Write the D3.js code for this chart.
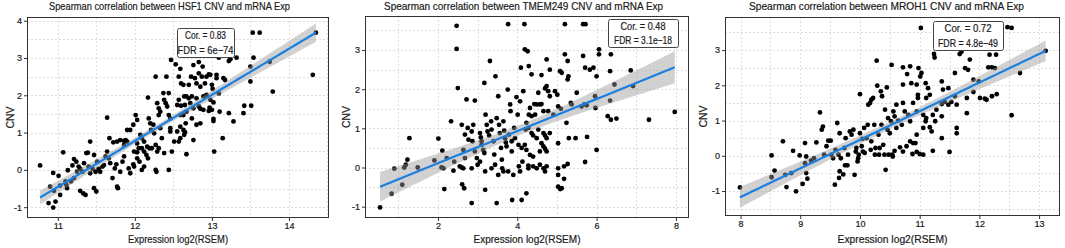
<!DOCTYPE html>
<html><head><meta charset="utf-8">
<script src="https://cdn.jsdelivr.net/npm/d3@7"></script>
<style>
body{margin:0;background:#fff}
svg{display:block}
text{font-family:"Liberation Sans",Arial,Helvetica,sans-serif}
</style>
</head><body>
<svg id="c" width="1065" height="248"></svg>
<script>
// ---------------- DATA ----------------
const titles = [
  "Spearman correlation between HSF1 CNV and mRNA Exp",
  "Spearman correlation between TMEM249 CNV and mRNA Exp",
  "Spearman correlation between MROH1 CNV and mRNA Exp"
];
const corLabels = ["Cor. = 0.83", "Cor. = 0.48", "Cor. = 0.72"];
const fdrLabels = ["FDR = 6e\u221274", "FDR = 3.1e\u221218", "FDR = 4.8e\u221249"];
const xLabel = "Expression log2(RSEM)";
const yLabel = "CNV";
const xTicks = [[11, 12, 13, 14], [2, 4, 6, 8], [8, 9, 10, 11, 12, 13]];
const yTicks = [[-1, 0, 1, 2, 3, 4], [-1, 0, 1, 2, 3], [-1, 0, 1, 2, 3]];
const xDomains = [[10.6, 14.52], [0.16, 8.33], [7.74, 13.35]];
const yDomains = [[-1.29, 4.1], [-1.29, 3.87], [-1.71, 3.94]];
// linear fit (geom_smooth, method = lm)
const fitIntercepts = [-14.037, -0.712, -7.672];
const fitSlopes = [1.2346, 0.4105, 0.8125];

const hsf1Points = [
[10.77,0.12],[10.94,-0.08],[11.01,-0.16],[10.90,-0.45],[10.95,-0.56],[11.03,-0.67],[10.88,-0.89],[10.94,-1.01],[10.97,-0.85],[11.03,-0.42],
[11.11,-0.40],[11.07,0.47],[11.13,-0.01],[11.19,0.12],[11.21,0.29],[11.24,0.22],[11.27,0.09],[11.29,0.03],[11.32,-0.05],[11.34,0.18],
[11.29,-0.56],[11.33,-0.63],[11.36,-0.67],[11.47,-0.49],[11.50,-0.58],[11.42,0.76],[11.37,0.45],[11.39,0.46],[11.47,0.40],[11.51,0.22],
[11.53,0.03],[11.58,0.09],[11.62,0.36],[11.64,1.40],[11.67,0.85],[11.72,0.74],[11.74,0.04],[11.76,0.15],[11.71,-0.22],[11.77,-0.45],
[11.78,-0.49],[11.81,-0.05],[11.84,0.22],[11.86,0.36],[11.88,0.80],[11.90,0.76],[11.92,0.04],[11.94,-0.09],[11.98,0.15],[11.99,0.09],
[12.03,0.31],[12.06,0.22],[12.09,0.00],[12.12,0.09],[12.01,1.47],[12.03,1.34],[11.94,1.07],[11.98,1.21],[11.90,1.07],[11.86,0.67],
[12.03,0.71],[12.07,0.94],[12.09,0.85],[12.12,0.76],[12.15,0.40],[12.17,0.31],[12.18,1.38],[12.20,1.25],[12.21,1.07],[12.24,1.21],
[12.25,0.98],[12.27,0.67],[12.29,0.49],[12.31,0.58],[12.33,1.12],[12.35,0.85],[12.38,0.45],[12.27,0.00],[12.28,-0.05],[12.31,1.47],
[12.33,1.56],[12.38,1.88],[12.40,1.79],[12.42,1.70],[12.44,1.47],[12.46,1.38],[12.37,2.06],[12.27,2.50],[12.41,2.50],[12.47,2.95],
[12.53,2.83],[12.59,2.71],[12.57,2.50],[12.64,1.97],[12.60,1.72],[12.63,1.47],[12.48,0.49],[12.44,0.00],[12.57,0.76],[12.51,0.76],
[12.46,1.12],[12.46,1.03],[12.55,1.03],[12.59,1.16],[12.66,1.25],[12.64,0.94],[12.17,1.94],[12.29,1.79],[12.31,1.65],[12.44,2.06],
[12.55,1.74],[12.57,1.88],[12.59,0.85],[11.77,0.76],[11.81,0.80],[11.86,0.78],[11.64,0.49],[11.66,0.31],[11.68,0.18],[11.60,0.13],
[11.55,-0.05],[11.49,-0.05],[11.45,0.03],[11.40,0.09],[11.42,-0.09],[11.25,-0.05],[11.21,-0.22],[11.17,-0.31],[11.12,-0.49],[11.10,-0.31],
[12.09,0.58],[12.12,0.49],[11.99,0.49],[12.03,0.47],[12.05,0.58],[12.16,0.62],[12.19,0.58],[12.22,0.58],
[13.53,3.68],[13.62,3.68],[14.35,3.68],[13.09,3.01],[13.22,2.92],[13.24,2.97],[13.32,3.01],[13.54,3.01],[13.75,2.90],[13.50,2.77],
[12.76,2.81],[12.83,2.89],[12.88,2.77],[12.73,2.50],[12.78,2.46],[12.83,2.59],[12.87,2.50],[12.93,2.50],[12.96,2.56],[12.98,2.55],
[13.06,2.55],[13.06,2.46],[13.15,2.46],[13.17,2.41],[14.31,2.55],[13.50,2.37],[12.60,2.32],[12.63,2.28],[12.70,2.28],[12.80,2.32],
[12.85,2.23],[12.91,2.32],[13.00,2.28],[13.01,2.17],[13.09,2.05],[13.79,2.10],[12.67,1.97],[12.70,1.92],[12.74,1.97],[12.80,1.92],
[12.89,1.97],[12.93,2.01],[12.98,1.88],[13.02,1.81],[12.65,1.74],[12.72,1.79],[12.76,1.65],[12.83,1.70],[12.85,1.64],[12.89,1.61],
[12.96,1.58],[13.00,1.61],[12.97,1.67],[13.10,1.56],[13.22,1.52],[13.42,1.72],[13.51,1.72],[13.41,1.52],[12.59,1.47],[12.67,1.56],
[12.74,1.38],[12.80,1.21],[12.85,1.25],[13.02,1.37],[13.02,1.31],[13.28,1.30],[12.63,1.07],[12.65,1.01],[12.76,0.80],[13.14,0.85],
[12.67,0.42],[13.03,0.49]
];

const tmem249Points = [
[0.54,-1.02],[0.83,-0.67],[0.90,-0.03],[1.10,-0.44],[1.15,0.00],[1.19,0.07],[1.23,0.20],[1.28,0.75],[1.49,0.00],[1.91,0.18],
[2.01,0.74],[2.11,0.43],[2.09,0.00],[2.14,-0.02],[2.16,-0.55],[2.22,0.24],[2.33,1.18],[2.41,0.15],[2.39,-0.08],[2.47,3.62],
[2.47,3.03],[2.50,2.03],[2.60,1.09],[2.55,0.03],[2.60,0.00],[2.64,-0.02],[2.64,0.45],[2.61,-0.43],[2.66,-0.53],[2.72,1.74],
[2.75,1.01],[2.68,0.84],[2.77,0.71],[2.85,0.92],[2.87,0.67],[2.85,-0.02],[2.85,-0.91],[2.93,1.71],[2.93,0.41],[2.98,0.24],
[3.00,0.07],[3.06,0.88],[3.08,0.77],[3.10,0.67],[3.14,0.45],[3.17,0.37],[3.19,-0.57],[3.17,2.16],[3.20,1.35],[3.23,1.09],
[3.25,0.92],[3.29,0.82],[3.31,2.72],[3.34,1.18],[3.35,0.97],[3.40,0.67],[3.42,0.33],[3.44,0.07],[3.45,2.33],[3.48,1.26],
[3.48,-0.91],[3.52,1.82],[3.54,1.09],[3.56,0.88],[3.59,0.50],[3.61,0.20],[3.62,-0.02],[3.65,1.18],[3.67,0.94],[3.69,0.75],
[3.71,0.64],[3.73,0.54],[3.76,1.99],[3.77,3.66],[3.79,0.84],[3.82,1.61],[3.83,1.44],[3.86,0.41],[3.87,-0.83],[3.90,-0.19],
[3.92,1.01],[3.94,0.75],[3.98,1.80],[4.01,1.35],[4.03,0.58],[4.04,0.03],[4.07,1.69],[4.09,2.55],[4.11,-0.83],[4.13,0.15],
[4.15,1.95],[4.18,3.66],[4.19,3.02],[4.21,0.97],[4.23,-0.66],[4.26,2.97],[4.28,-0.02],[4.29,1.35],[4.07,-0.10],[4.11,0.50],
[3.35,-0.02],[3.06,0.15],[2.68,0.24],[3.86,0.67],[3.65,-0.10],[3.77,-0.10],[3.52,-0.19],[3.19,-0.10],[3.10,0.58],[2.89,1.09],
[5.20,3.66],[5.66,3.66],[5.72,3.66],[4.29,2.59],[4.36,2.38],[4.61,2.36],[4.74,2.76],[4.82,2.50],[5.08,2.46],[5.12,2.42],
[5.20,2.89],[5.27,2.72],[5.29,2.33],[5.27,2.25],[5.50,1.91],[5.66,2.85],[5.71,2.55],[5.83,2.50],[5.92,2.55],[6.00,2.33],
[6.06,3.02],[6.06,2.89],[6.36,2.89],[6.34,2.46],[6.45,2.12],[6.86,2.48],[6.92,2.08],[5.96,1.82],[5.97,1.52],[5.69,1.61],
[5.75,1.59],[5.62,1.56],[5.35,1.65],[5.37,1.61],[4.74,2.08],[4.70,2.02],[4.78,1.95],[4.95,1.95],[5.01,1.86],[4.82,1.82],
[4.53,1.91],[4.43,1.62],[4.49,1.61],[4.57,1.61],[4.61,1.62],[4.32,1.52],[4.45,1.35],[4.36,1.31],[4.66,1.44],[4.78,1.44],
[4.91,1.35],[5.03,1.56],[5.10,1.50],[5.24,1.14],[6.34,1.71],[6.28,1.31],[6.36,1.22],[6.50,1.25],[7.32,1.22],[7.97,1.42],
[4.23,1.14],[4.28,1.01],[4.36,0.88],[4.40,0.82],[4.49,0.75],[4.53,0.97],[4.66,0.88],[4.70,0.82],[4.74,0.75],[4.82,0.88],
[4.61,0.62],[4.66,0.54],[4.70,0.48],[4.74,0.41],[4.57,0.41],[5.03,0.62],[5.30,0.75],[5.47,0.75],[5.76,0.78],[6.00,0.45],
[5.71,0.14],[4.19,0.58],[4.23,0.45],[4.32,0.32],[4.40,0.28],[4.28,0.05],[4.40,0.03],[4.49,-0.02],[4.57,0.07],[4.66,-0.02],
[4.74,0.03],[4.70,-0.10],[5.03,-0.02],[5.18,0.03],[5.27,0.09],[5.03,-0.19],[5.18,-0.29],[5.03,-0.49],[5.08,-0.55],[5.12,-0.53]
];

const mroh1Points = [
[7.99,-0.90],[8.52,0.01],[8.52,-0.61],[8.57,-0.42],[8.71,0.41],[8.75,-0.54],[8.77,-0.89],[8.85,-0.49],[8.88,0.14],[8.93,-1.01],
[8.99,0.01],[9.04,-0.80],[9.08,0.36],[9.08,-0.21],[9.10,-0.49],[9.12,-0.65],[9.10,-0.02],[9.18,-0.14],[9.23,-0.07],[9.27,0.38],
[9.33,1.23],[9.36,0.74],[9.38,0.83],[9.40,0.03],[9.44,0.27],[9.47,0.43],[9.51,0.43],[9.52,0.03],[9.55,-0.07],[9.58,-0.82],
[9.59,0.17],[9.62,0.93],[9.64,0.03],[9.65,-0.63],[9.66,0.64],[9.66,-0.44],[9.68,-0.07],[9.72,-0.53],[9.74,0.22],[9.75,-0.27],
[9.76,0.50],[9.79,-0.27],[9.80,0.03],[9.83,0.69],[9.86,0.60],[9.89,0.74],[9.91,-0.54],[9.93,0.12],[9.94,0.22],[9.96,-0.16],
[9.97,-0.07],[9.98,0.03],[10.00,1.75],[10.00,0.64],[10.03,0.27],[10.04,0.48],[10.05,0.12],[10.07,0.79],[10.08,0.08],[10.11,0.50],
[10.13,0.88],[10.14,1.45],[10.17,1.50],[10.18,0.17],[10.19,1.59],[10.19,0.41],[10.22,1.64],[10.24,0.88],[10.25,0.03],[10.26,0.22],
[10.28,2.70],[10.29,1.99],[10.31,0.60],[10.32,0.03],[10.33,0.22],[10.35,1.83],[10.36,0.88],[10.37,1.69],[10.39,0.31],[10.41,0.03],
[10.42,1.31],[10.43,-0.40],[10.45,1.94],[10.46,0.74],[10.47,1.07],[10.48,0.03],[10.50,0.64],[10.52,0.98],[10.53,2.58],[10.54,0.03],
[11.02,3.63],[12.47,3.65],[12.54,3.63],[13.11,2.98],[12.68,2.35],[12.54,1.15],[10.72,2.51],[10.84,2.54],[10.79,2.32],[10.98,2.49],
[11.03,2.35],[11.01,2.25],[10.72,2.02],[10.86,2.06],[10.95,2.02],[11.10,2.06],[11.14,1.92],[11.25,2.79],[11.24,2.89],[11.17,1.73],
[11.11,1.64],[10.97,1.73],[10.97,1.64],[11.37,2.11],[11.39,1.88],[11.48,1.92],[11.59,2.35],[11.67,2.89],[11.70,2.95],[11.84,2.73],
[11.76,2.49],[11.81,2.44],[11.90,2.16],[11.99,2.11],[12.17,2.87],[12.28,2.87],[12.15,2.51],[12.21,2.51],[12.26,2.49],[11.90,1.81],
[12.01,1.64],[12.09,1.62],[12.12,1.59],[12.21,1.69],[12.29,1.75],[11.79,1.64],[11.79,1.21],[11.62,1.45],[11.59,1.69],[11.53,1.53],
[11.48,1.45],[11.42,1.53],[11.37,1.47],[11.28,1.31],[11.22,1.16],[11.26,0.98],[11.37,1.12],[11.62,0.79],[11.62,0.64],[11.50,0.11],
[11.22,0.14],[11.06,0.03],[11.00,0.05],[10.95,0.11],[10.88,0.05],[10.78,0.27],[10.72,0.12],[10.67,0.24],[10.58,0.14],[10.55,-0.02],
[10.89,0.36],[10.84,0.41],[10.95,0.60],[11.06,0.79],[11.10,0.98],[11.17,0.81],[11.20,0.69],[11.37,0.50],[10.93,0.36],[10.61,1.45],
[10.56,1.26],[10.58,1.12],[10.64,1.00],[10.70,0.88],[10.75,1.26],[10.81,1.16],[10.84,0.98],[10.72,1.50],[10.89,1.50],[10.95,1.26],
[11.06,1.16],[11.11,1.07],[10.61,0.79]
];

const panelPoints = [hsf1Points, tmem249Points, mroh1Points];

// ---------------- LAYOUT ----------------
const layout = [
  {left: 27, right: 329, top: 17, bottom: 218, titleX: 169.5, titleW: 241, xLabW: 100, yLabX: 10,
   box: {x0: 177, x1: 234, y0: 28, y1: 57}, corW: 41, fdrW: 56},
  {left: 365, right: 689, top: 16, bottom: 218, titleX: 523.6, titleW: 279, xLabW: 107, yLabX: 346,
   box: {x0: 608, x1: 678, y0: 19, y1: 47}, corW: 45, fdrW: 58},
  {left: 725, right: 1060, top: 17, bottom: 216, titleX: 886.5, titleW: 275, xLabW: 110, yLabX: 703,
   box: {x0: 933, x1: 1003, y0: 21, y1: 50}, corW: 47, fdrW: 60}
];

const svg = d3.select("#c");
const textCol = "#1a1a1a";

function heavy(sel) {
  return sel.attr("fill", textCol).attr("stroke", textCol).attr("stroke-width", 0.2);
}

panelPoints.forEach((pts, i) => {
  const L = layout[i];
  const x = d3.scaleLinear().domain(xDomains[i]).range([L.left, L.right]);
  const y = d3.scaleLinear().domain(yDomains[i]).range([L.bottom, L.top]);
  const g = svg.append("g");

  const clipId = "clip" + i;
  svg.append("clipPath").attr("id", clipId).append("rect")
    .attr("x", L.left).attr("y", L.top).attr("width", L.right - L.left).attr("height", L.bottom - L.top);

  // grid (major + minor)
  const xt = xTicks[i], yt = yTicks[i];
  const xstep = xt[1] - xt[0], ystep = yt[1] - yt[0];
  const xGrid = d3.range(xt[0] - xstep, xt[xt.length - 1] + xstep * 1.01, xstep / 2).filter(v => v >= xDomains[i][0] && v <= xDomains[i][1]);
  const yGrid = d3.range(yt[0] - ystep, yt[yt.length - 1] + ystep * 1.01, ystep / 2).filter(v => v >= yDomains[i][0] && v <= yDomains[i][1]);
  const grid = g.append("g").attr("stroke", "#d4d4d4").attr("stroke-width", 0.8).attr("stroke-dasharray", "2,2");
  grid.selectAll("line.gx").data(xGrid).join("line")
    .attr("x1", d => Math.round(x(d)) + 0.5).attr("x2", d => Math.round(x(d)) + 0.5)
    .attr("y1", L.top).attr("y2", L.bottom);
  grid.selectAll("line.gy").data(yGrid).join("line")
    .attr("y1", d => Math.round(y(d)) + 0.5).attr("y2", d => Math.round(y(d)) + 0.5)
    .attr("x1", L.left).attr("x2", L.right);

  const plot = g.append("g").attr("clip-path", `url(#${clipId})`);
  // points
  plot.selectAll("circle").data(pts).join("circle")
    .attr("cx", d => x(d[0])).attr("cy", d => y(d[1])).attr("r", 2.4).attr("fill", "#000");

  // regression line + 95% confidence band
  const a = fitIntercepts[i], b = fitSlopes[i];
  const n = pts.length;
  const mx = d3.mean(pts, d => d[0]);
  const sxx = d3.sum(pts, d => (d[0] - mx) ** 2);
  const s = Math.sqrt(d3.sum(pts, d => (d[1] - a - b * d[0]) ** 2) / (n - 2));
  const xs = d3.extent(pts, d => d[0]);
  const steps = d3.range(0, 81).map(k => xs[0] + (xs[1] - xs[0]) * k / 80);
  const tq = 1.97;
  const band = steps.map(xv => {
    const yh = a + b * xv;
    const se = s * Math.sqrt(1 / n + (xv - mx) ** 2 / sxx);
    return {x: xv, y: yh, lo: yh - tq * se, hi: yh + tq * se};
  });
  plot.append("path").datum(band)
    .attr("d", d3.area().x(d => x(d.x)).y0(d => y(d.lo)).y1(d => y(d.hi)))
    .attr("fill", "#999999").attr("fill-opacity", 0.45);
  plot.append("path").datum(band)
    .attr("d", d3.line().x(d => x(d.x)).y(d => y(d.y)))
    .attr("fill", "none").attr("stroke", "#1a7fe0").attr("stroke-width", 2.2);

  // border
  g.append("rect").attr("x", L.left + 0.5).attr("y", L.top + 0.5)
    .attr("width", L.right - L.left - 1).attr("height", L.bottom - L.top - 1)
    .attr("fill", "none").attr("stroke", "#333").attr("stroke-width", 1);

  // axes
  const xAxis = d3.axisBottom(x).tickValues(xt).tickSize(3).tickPadding(2).tickFormat(d3.format("d"));
  const yAxis = d3.axisLeft(y).tickValues(yt).tickSize(3).tickPadding(2).tickFormat(d => d < 0 ? "-" + Math.abs(d) : d);
  const gx = g.append("g").attr("transform", `translate(0,${L.bottom})`).call(xAxis);
  const gy = g.append("g").attr("transform", `translate(${L.left},0)`).call(yAxis);
  [gx, gy].forEach(ax => {
    ax.select(".domain").remove();
    ax.selectAll(".tick line").attr("stroke", "#333");
    heavy(ax.selectAll(".tick text")).attr("font-size", 9).attr("font-family", "Liberation Sans, Arial, sans-serif");
  });

  // labels
  heavy(g.append("text").attr("x", L.titleX).attr("y", 10).attr("text-anchor", "middle")
    .attr("font-size", 11).attr("textLength", L.titleW).attr("lengthAdjust", "spacingAndGlyphs")).text(titles[i]);
  heavy(g.append("text").attr("x", (L.left + L.right) / 2).attr("y", 242.5).attr("text-anchor", "middle")
    .attr("font-size", 11).attr("textLength", L.xLabW).attr("lengthAdjust", "spacingAndGlyphs")).text(xLabel);
  heavy(g.append("text").attr("transform", `translate(${L.yLabX + 3.5},${(L.top + L.bottom) / 2}) rotate(-90)`)
    .attr("text-anchor", "middle").attr("font-size", 10.5)).text(yLabel);

  // annotation box
  const B = L.box;
  g.append("rect").attr("x", B.x0 + 0.5).attr("y", B.y0 + 0.5).attr("width", B.x1 - B.x0).attr("height", B.y1 - B.y0)
    .attr("rx", 2).attr("fill", "#fff").attr("stroke", "#444").attr("stroke-width", 1);
  const cx = (B.x0 + B.x1) / 2, h = B.y1 - B.y0;
  heavy(g.append("text").attr("x", cx).attr("y", B.y0 + h * 0.39).attr("text-anchor", "middle")
    .attr("font-size", 10.5).attr("textLength", L.corW).attr("lengthAdjust", "spacingAndGlyphs")).text(corLabels[i]);
  heavy(g.append("text").attr("x", cx).attr("y", B.y0 + h * 0.88).attr("text-anchor", "middle")
    .attr("font-size", 10.5).attr("textLength", L.fdrW).attr("lengthAdjust", "spacingAndGlyphs")).text(fdrLabels[i]);
});
</script>
</body></html>
